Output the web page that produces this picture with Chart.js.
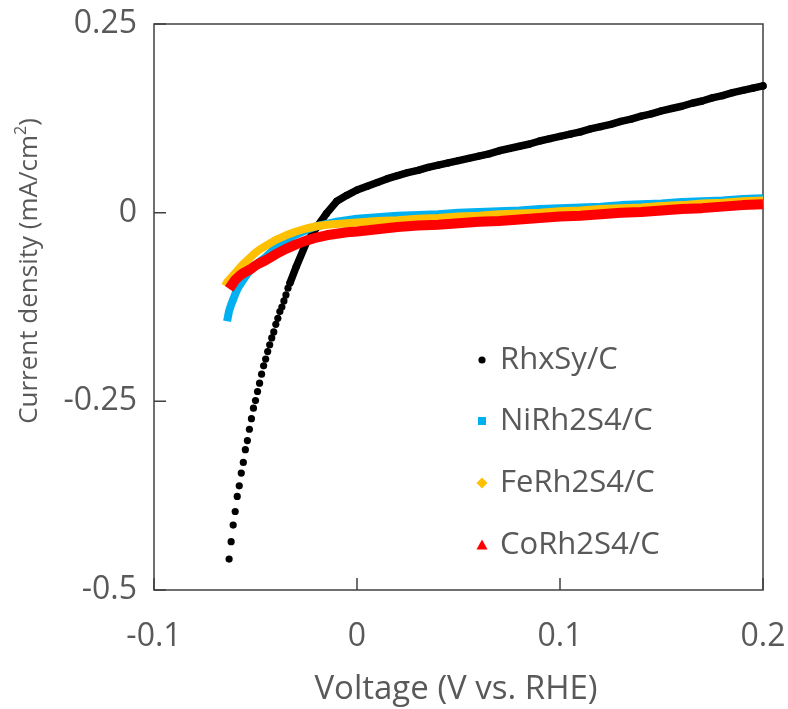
<!DOCTYPE html>
<html>
<head>
<meta charset="utf-8">
<script src="https://cdn.jsdelivr.net/npm/chart.js@4.4.1/dist/chart.umd.min.js"></script>
<style>
  body { margin: 0; background: #fff; }
  #wrap { width: 788px; height: 709px; }
</style>
</head>
<body>
<div id="wrap"><canvas id="grafico" width="788" height="709"></canvas></div>
<script>
// --- Dados ---
const seriesNames = ['RhxSy/C', 'NiRh2S4/C', 'FeRh2S4/C', 'CoRh2S4/C'];
const xTicks = [-0.1, 0, 0.1, 0.2];
const yTicks = [-0.5, -0.25, 0, 0.25];

const rhxV = [-0.063, -0.062, -0.061, -0.060, -0.059, -0.058, -0.057, -0.056, -0.055, -0.054,
  -0.053, -0.052, -0.051, -0.050, -0.049, -0.048, -0.047, -0.046, -0.045, -0.044,
  -0.043, -0.042, -0.041, -0.040, -0.039, -0.038, -0.037, -0.036, -0.035, -0.034, -0.033,
  -0.030, -0.025, -0.020, -0.015, -0.010, -0.005, 0, 0.005, 0.010, 0.015, 0.020,
  0.025, 0.030, 0.035, 0.040, 0.045, 0.050, 0.055, 0.060, 0.065, 0.070, 0.075, 0.080,
  0.085, 0.090, 0.095, 0.100, 0.105, 0.110, 0.115, 0.120, 0.125, 0.130, 0.135, 0.140,
  0.145, 0.150, 0.155, 0.160, 0.165, 0.170, 0.175, 0.180, 0.185, 0.190, 0.195, 0.200];
const rhxJ = [-0.459, -0.436, -0.414, -0.396, -0.376, -0.362, -0.345, -0.331, -0.314, -0.302,
  -0.287, -0.273, -0.259, -0.249, -0.237, -0.226, -0.214, -0.203, -0.194, -0.184,
  -0.175, -0.166, -0.158, -0.148, -0.140, -0.131, -0.125, -0.117, -0.109, -0.100, -0.093,
  -0.072, -0.040, -0.020, -0.001, 0.015, 0.023, 0.030, 0.035, 0.040, 0.045, 0.049,
  0.053, 0.056, 0.060, 0.063, 0.066, 0.069, 0.072, 0.075, 0.078, 0.082, 0.085, 0.088,
  0.091, 0.095, 0.098, 0.101, 0.104, 0.107, 0.111, 0.114, 0.117, 0.121, 0.124, 0.128,
  0.131, 0.135, 0.138, 0.141, 0.145, 0.148, 0.152, 0.155, 0.159, 0.162, 0.165, 0.168];

const niV = [-0.064, -0.063, -0.062, -0.061, -0.060, -0.059, -0.058, -0.056, -0.054, -0.052,
  -0.050, -0.048, -0.045, -0.040, -0.035, -0.030, -0.025, -0.020, -0.015, -0.010,
  -0.005, 0, 0.005, 0.010, 0.015, 0.020, 0.030, 0.040, 0.050, 0.060, 0.070, 0.080,
  0.090, 0.100, 0.110, 0.120, 0.130, 0.140, 0.150, 0.160, 0.170, 0.180, 0.190, 0.200];
const niJ = [-0.144, -0.130, -0.122, -0.115, -0.108, -0.102, -0.097, -0.089, -0.081, -0.075,
  -0.070, -0.065, -0.059, -0.046, -0.036, -0.029, -0.023, -0.018, -0.015, -0.012,
  -0.010, -0.008, -0.007, -0.006, -0.005, -0.004, -0.003, -0.002, 0.000, 0.001, 0.002, 0.003,
  0.005, 0.006, 0.007, 0.008, 0.010, 0.011, 0.012, 0.014, 0.015, 0.016, 0.018, 0.019];

const feV = [-0.065, -0.064, -0.063, -0.062, -0.060, -0.058, -0.056, -0.054, -0.052, -0.050,
  -0.048, -0.045, -0.040, -0.035, -0.030, -0.025, -0.020, -0.015, -0.010, -0.005,
  0, 0.010, 0.020, 0.030, 0.040, 0.050, 0.060, 0.070, 0.080, 0.090, 0.100, 0.110,
  0.120, 0.130, 0.140, 0.150, 0.160, 0.170, 0.180, 0.190, 0.200];
const feJ = [-0.097, -0.092, -0.089, -0.086, -0.080, -0.074, -0.068, -0.063, -0.058, -0.053,
  -0.049, -0.044, -0.036, -0.030, -0.025, -0.021, -0.018, -0.016, -0.015, -0.014,
  -0.013, -0.011, -0.010, -0.008, -0.007, -0.005, -0.004, -0.002, -0.001, 0.000, 0.002, 0.003,
  0.005, 0.006, 0.007, 0.009, 0.010, 0.012, 0.013, 0.015, 0.016];

const coV = [-0.063, -0.062, -0.061, -0.060, -0.058, -0.056, -0.054, -0.052, -0.050, -0.048,
  -0.045, -0.040, -0.035, -0.030, -0.025, -0.020, -0.015, -0.010, -0.005, 0,
  0.010, 0.020, 0.030, 0.040, 0.050, 0.060, 0.070, 0.080, 0.090, 0.100, 0.110,
  0.120, 0.130, 0.140, 0.150, 0.160, 0.170, 0.180, 0.190, 0.200];
const coJ = [-0.101, -0.097, -0.093, -0.089, -0.084, -0.080, -0.077, -0.074, -0.070, -0.067,
  -0.063, -0.055, -0.048, -0.042, -0.037, -0.033, -0.030, -0.028, -0.026, -0.025,
  -0.022, -0.019, -0.017, -0.016, -0.014, -0.012, -0.011, -0.009, -0.007, -0.005, -0.004,
  -0.002, 0.000, 0.001, 0.003, 0.005, 0.006, 0.008, 0.010, 0.011];

// --- Estilo ---
const cores = ['#000000', '#00B0F0', '#FFC000', '#FF0000'];
const fonte = '"Open Sans", sans-serif';
const cinza = '#595959';

function pontos(v, j) {
  return v.map((x, i) => ({ x: x, y: j[i] }));
}

function formatar(v) {
  return String(Number(v.toFixed(2)));
}

function desenharMarcador(ctx, tipo, x, y, cor) {
  ctx.fillStyle = cor;
  ctx.beginPath();
  if (tipo === 'circle') {
    ctx.arc(x, y, 3.6, 0, Math.PI * 2);
  } else if (tipo === 'rect') {
    ctx.rect(x - 4, y - 4, 8, 8);
  } else if (tipo === 'rectRot') {
    ctx.moveTo(x, y - 5.5); ctx.lineTo(x + 5.5, y); ctx.lineTo(x, y + 5.5); ctx.lineTo(x - 5.5, y);
  } else {
    ctx.moveTo(x, y - 5.5); ctx.lineTo(x + 5.5, y + 4.5); ctx.lineTo(x - 5.5, y + 4.5);
  }
  ctx.closePath();
  ctx.fill();
}

// caixa, marcas internas, rótulos, títulos e legenda
const molduraPlugin = {
  id: 'moldura',
  beforeDatasetsDraw(chart) {
    const { ctx, chartArea: a, scales } = chart;
    ctx.save();
    ctx.strokeStyle = '#404040';
    ctx.lineWidth = 1.5;
    ctx.strokeRect(a.left, a.top, a.right - a.left, a.bottom - a.top);
    ctx.beginPath();
    yTicks.forEach(v => {
      const py = scales.y.getPixelForValue(v);
      ctx.moveTo(a.left, py); ctx.lineTo(a.left + 12, py);
    });
    xTicks.forEach(v => {
      const px = scales.x.getPixelForValue(v);
      ctx.moveTo(px, a.bottom); ctx.lineTo(px, a.bottom - 12);
    });
    ctx.stroke();
    ctx.restore();
  },
  afterDraw(chart) {
    const { ctx, chartArea: a, scales } = chart;
    ctx.save();
    ctx.fillStyle = cinza;
    ctx.textBaseline = 'middle';

    // rótulos dos eixos
    ctx.font = '32px ' + fonte;
    ctx.textAlign = 'right';
    yTicks.forEach(v => ctx.fillText(formatar(v), a.left - 17, scales.y.getPixelForValue(v)));
    ctx.textAlign = 'center';
    xTicks.forEach(v => ctx.fillText(formatar(v), scales.x.getPixelForValue(v), 637));

    // título eixo x
    ctx.font = '33px ' + fonte;
    ctx.fillText('Voltage (V vs. RHE)', 456, 690);

    // título eixo y com sobrescrito
    ctx.translate(30, 271);
    ctx.rotate(-Math.PI / 2);
    ctx.textAlign = 'left';
    const principal = 'Current density (mA/cm';
    ctx.font = '26px ' + fonte;
    const w1 = ctx.measureText(principal).width;
    const w3 = ctx.measureText(')').width;
    ctx.font = '16px ' + fonte;
    const w2 = ctx.measureText('2').width;
    let x = -(w1 + w2 + w3) / 2;
    ctx.font = '26px ' + fonte;
    ctx.fillText(principal, x, 0);
    x += w1;
    ctx.font = '16px ' + fonte;
    ctx.fillText('2', x, -9);
    x += w2;
    ctx.font = '26px ' + fonte;
    ctx.fillText(')', x, 0);
    ctx.restore();

    // legenda
    const linhas = [360, 421, 483, 545];
    const tipos = ['circle', 'rect', 'rectRot', 'triangle'];
    ctx.save();
    ctx.font = '31px ' + fonte;
    ctx.textBaseline = 'middle';
    ctx.textAlign = 'left';
    chart.data.datasets.forEach((ds, i) => {
      desenharMarcador(ctx, tipos[i], 482, linhas[i], cores[i]);
      ctx.fillStyle = cinza;
      ctx.fillText(ds.label, 500, linhas[i]);
    });
    ctx.restore();
  }
};

const datasets = [
  {
    label: seriesNames[0], data: pontos(rhxV, rhxJ), showLine: true,
    borderColor: cores[0], backgroundColor: cores[0], borderWidth: 7.5,
    borderCapStyle: 'round', borderJoinStyle: 'round',
    pointRadius: 3.6, pointBorderWidth: 0, order: 4,
    segment: { borderColor: c => c.p0.parsed.x < -0.0335 ? 'rgba(0,0,0,0)' : undefined }
  },
  {
    label: seriesNames[1], data: pontos(niV, niJ), showLine: true,
    borderColor: cores[1], backgroundColor: cores[1], borderWidth: 8,
    borderJoinStyle: 'round', pointRadius: 0, order: 3
  },
  {
    label: seriesNames[2], data: pontos(feV, feJ), showLine: true,
    borderColor: cores[2], backgroundColor: cores[2], borderWidth: 8,
    borderJoinStyle: 'round', pointRadius: 0, order: 2
  },
  {
    label: seriesNames[3], data: pontos(coV, coJ), showLine: true,
    borderColor: cores[3], backgroundColor: cores[3], borderWidth: 10,
    borderJoinStyle: 'round', pointRadius: 0, order: 1
  }
];

new Chart(document.getElementById('grafico'), {
  type: 'scatter',
  data: { datasets: datasets },
  options: {
    responsive: false,
    animation: false,
    clip: false,
    layout: { padding: { left: 0, top: 24, right: 25, bottom: 0 } },
    plugins: { legend: { display: false }, tooltip: { enabled: false } },
    elements: { line: { tension: 0 } },
    scales: {
      x: {
        type: 'linear', min: -0.1, max: 0.2,
        afterBuildTicks: s => { s.ticks = xTicks.map(v => ({ value: v })); },
        afterFit: s => { s.height = 119; },
        grid: { display: false }, border: { display: false },
        ticks: { display: false }
      },
      y: {
        type: 'linear', min: -0.5, max: 0.25,
        afterBuildTicks: s => { s.ticks = yTicks.map(v => ({ value: v })); },
        afterFit: s => { s.width = 154; },
        grid: { display: false }, border: { display: false },
        ticks: { display: false }
      }
    }
  },
  plugins: [molduraPlugin]
});
</script>
</body>
</html>
